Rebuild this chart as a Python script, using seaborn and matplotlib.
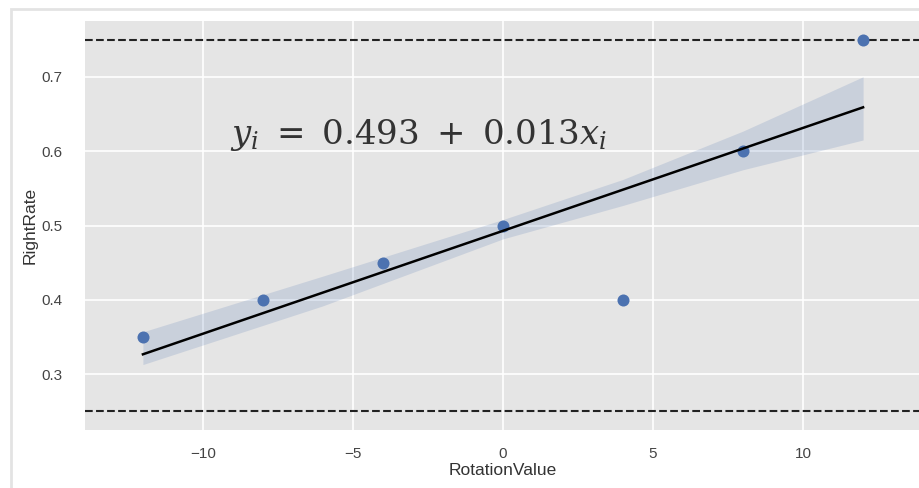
import matplotlib
matplotlib.use("Agg")
import matplotlib.pyplot as plt
import seaborn as sns
import pandas as pd
from matplotlib.patches import Rectangle

rotation_value = [-12, -8, -4, 0, 4, 8, 12]
right_rate = [0.35, 0.40, 0.45, 0.50, 0.40, 0.60, 0.75]
ref_lines = [0.75, 0.25]
equation = r"$y_i\ =\ 0.493\ +\ 0.013x_i$"

# confidence band
band_x = [-12, -6, 0, 4, 8, 12]
band_upper = [0.357, 0.432, 0.508, 0.562, 0.627, 0.700]
band_lower = [0.313, 0.392, 0.482, 0.527, 0.575, 0.615]

df = pd.DataFrame({"RotationValue": rotation_value, "RightRate": right_rate})

plt.style.use("ggplot")
plt.rcParams["font.family"] = ["Liberation Sans", "DejaVu Sans"]
plt.rcParams["mathtext.fontset"] = "dejavuserif"

fig = plt.figure(figsize=(9.19, 4.88), dpi=100)
fig.patch.set_facecolor("white")
ax = fig.add_axes([85 / 919, 1 - 430 / 488, 836 / 919, 409 / 488])
ax.set_facecolor("#e5e5e5")

sns.regplot(data=df, x="RotationValue", y="RightRate", ax=ax, ci=None,
            scatter_kws={"s": 75, "color": "#4c72b0", "alpha": 1, "zorder": 3, "linewidths": 0},
            line_kws={"color": "black", "lw": 1.8, "zorder": 4})
ax.fill_between(band_x, band_lower, band_upper, color="#4c72b0", alpha=0.18,
                linewidth=0, zorder=2)

for yv in ref_lines:
    ax.axhline(yv, color="#222222", ls="--", lw=1.5, zorder=2)

ax.set_xlim(-13.93, 13.93)
ax.set_ylim(0.225, 0.775)
ax.set_xticks([-10, -5, 0, 5, 10])
ax.set_yticks([0.3, 0.4, 0.5, 0.6, 0.7])
ax.grid(True, color="white", lw=1.2)
ax.set_axisbelow(True)
ax.tick_params(length=0, labelsize=11, colors="#444444")
ax.tick_params(axis="x", pad=12)
ax.tick_params(axis="y", pad=16)
for s in ax.spines.values():
    s.set_visible(False)
ax.set_xlabel("RotationValue", fontsize=12.5, color="#333333", labelpad=2)
ax.set_ylabel("RightRate", fontsize=12.5, color="#333333", labelpad=3)

ax.text(-9.1, 0.61, equation, fontsize=24.5, color="#333333", ha="left", va="baseline")

fig.add_artist(Rectangle((11 / 919, -0.1), 1.2, 1 - 9 / 488 + 0.1, transform=fig.transFigure,
                         fill=False, edgecolor="#e3e3e3", lw=2))

fig.savefig("out.png", dpi=100, facecolor="white")
